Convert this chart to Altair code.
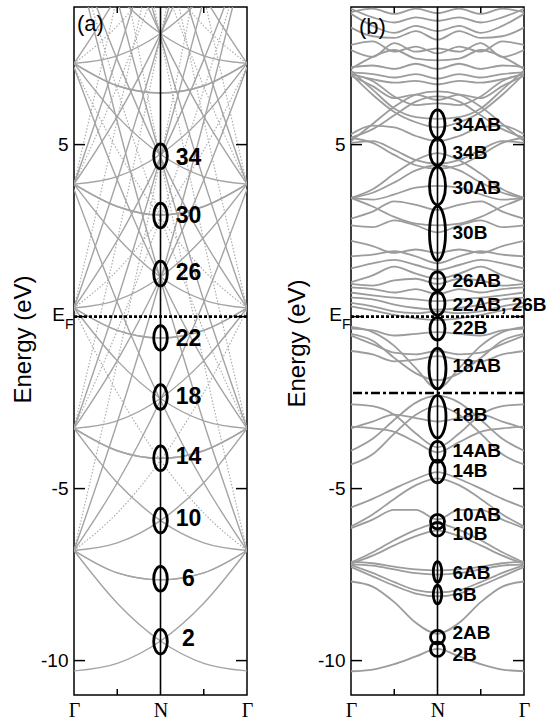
import altair as alt
import pandas as pd

# ---------------- geometry / style ----------------
W, H = 173, 688                 # plot area of each panel (px)
E_MIN, E_MAX = -11.0, 9.0       # energy window (eV)
PX_PER_EV = H / (E_MAX - E_MIN)
SANS = "Liberation Sans"
SERIF = "Liberation Serif"
BAND_GRAY = "#9c9c9c"

# ---------------- panel (a): bands sampled at Γ, Γ-N/2, N, N-Γ/2, Γ ----------------
K_A = [0.0, 0.25, 0.5, 0.75, 1.0]

a_solid = [
    # parabolas joining neighbouring Γ levels
    [-10.30, -10.08, -9.43, -8.33, -6.80],
    [-6.80, -6.58, -5.93, -4.83, -3.25],
    [-3.25, -3.03, -2.38, -1.28, 0.25],
    [0.25, 0.48, 1.15, 2.30, 3.85],
    [3.85, 4.07, 4.72, 5.82, 7.36],
    [7.36, 7.58, 8.23, 9.33, 10.86],
    # bands with their minimum at N
    [-6.80, -7.45, -7.65, -7.45, -6.80],
    [-3.25, -3.90, -4.12, -3.90, -3.25],
    [0.25, -0.40, -0.62, -0.40, 0.25],
    [3.85, 3.20, 2.95, 3.20, 3.85],
    [7.36, 6.71, 6.50, 6.71, 7.36],
    # steeper branches
    [-6.80, -4.83, -2.43, 0.42, 3.70],
    [-3.25, -1.28, 1.13, 3.97, 7.25],
    [0.25, 2.22, 4.63, 7.47, 10.75],
    [3.85, 5.82, 8.22, 11.07, 14.35],
    [7.36, 9.33, 11.73, 14.58, 17.86],
    [-6.80, -3.08, 1.08, 5.67, 10.70],
    [-3.25, 0.47, 4.63, 9.22, 14.25],
    [0.25, 3.97, 8.13, 12.72, 17.75],
    [3.85, 7.57, 11.70, 16.30, 21.35],
]

a_dotted = [
    [-6.80, -5.71, -4.18, -2.21, 0.20],
    [0.25, 1.34, 2.88, 4.84, 7.25],
    [7.36, 8.45, 9.99, 11.95, 14.36],
    [-3.25, -0.41, 2.88, 6.59, 10.75],
    [3.85, 6.69, 9.98, 13.69, 17.85],
    [-6.80, -1.33, 4.58, 10.92, 17.70],
    [-3.25, 2.22, 8.13, 14.47, 21.25],
    [0.25, 5.72, 11.60, 17.97, 24.75],
    [3.85, 9.32, 15.20, 21.57, 28.35],
]

# circled crossings at N, panel (a)
a_names = ["2", "6", "10", "14", "18", "22", "26", "30", "34"]
a_centers = [-9.45, -7.62, -5.93, -4.12, -2.34, -0.62, 1.25, 2.94, 4.66]
a_half_ev = [0.36, 0.36, 0.36, 0.36, 0.36, 0.36, 0.36, 0.36, 0.36]
a_label_E = [-9.36, -7.62, -5.88, -4.09, -2.35, -0.64, 1.28, 2.93, 4.62]

# ---------------- panel (b): bands from Γ to N (mirrored N to Γ) ----------------
K_B = [0.0, 0.125, 0.25, 0.375, 0.5]

b_bands = [
    # upper manifold
    [8.85, 8.95, 8.80, 8.95, 8.82],
    [8.95, 8.70, 8.55, 8.70, 8.60],
    [8.80, 8.45, 8.25, 8.45, 8.30],
    [8.40, 8.15, 8.10, 8.30, 8.05],
    [7.90, 8.00, 7.70, 7.85, 7.65],
    [7.75, 7.55, 7.95, 7.70, 7.80],
    [7.20, 7.55, 7.75, 7.50, 7.45],
    [7.25, 7.30, 7.20, 7.35, 7.20],
    [7.10, 7.05, 6.95, 7.05, 6.92],
    [7.05, 6.90, 6.80, 6.85, 6.75],
    [7.00, 6.70, 6.35, 6.45, 6.30],
    [7.05, 6.85, 6.40, 6.15, 6.20],
    [7.15, 6.60, 6.05, 5.80, 5.75],
    [7.05, 6.45, 5.95, 5.65, 5.50],
    [5.20, 5.45, 5.85, 6.25, 6.40],
    [5.10, 5.60, 6.10, 6.45, 6.55],
    [5.30, 5.55, 5.50, 5.25, 5.10],
    [5.05, 5.10, 4.85, 4.55, 4.45],
    [5.20, 5.05, 4.70, 4.40, 4.30],
    [3.45, 3.70, 4.15, 4.55, 4.75],
    [3.45, 3.60, 3.90, 4.25, 4.40],
    [3.45, 3.40, 3.55, 3.75, 3.80],
    [3.45, 3.20, 2.90, 2.70, 2.65],
    [2.65, 2.60, 2.80, 2.65, 2.45],
    [2.85, 3.05, 3.35, 3.25, 3.10],
    # around the Fermi level
    [2.20, 2.05, 1.85, 1.95, 1.85],
    [1.75, 1.80, 1.90, 1.75, 1.55],
    [1.40, 1.55, 1.65, 1.50, 1.35],
    [1.00, 1.20, 1.45, 1.25, 1.10],
    [0.95, 0.90, 1.05, 1.10, 0.95],
    [0.85, 0.80, 0.70, 0.80, 0.65],
    [0.70, 0.62, 0.55, 0.50, 0.45],
    [0.55, 0.50, 0.35, 0.25, 0.20],
    [0.40, 0.30, 0.15, 0.10, 0.15],
    [0.30, 0.18, 0.05, -0.05, -0.10],
    [-0.35, -0.40, -0.55, -0.50, -0.45],
    [-0.30, -0.45, -0.85, -1.50, -2.10],
    [-0.50, -0.70, -1.20, -1.65, -1.85],
    [-0.55, -0.80, -1.05, -1.10, -1.00],
    [-1.00, -1.10, -1.30, -1.25, -1.15],
    # below the dash-dotted level
    [-2.55, -2.60, -2.85, -3.40, -3.80],
    [-3.20, -3.25, -3.35, -3.65, -3.95],
    [-3.90, -3.55, -3.00, -2.50, -2.30],
    [-4.30, -4.00, -3.40, -2.85, -2.60],
    [-3.25, -3.05, -2.85, -2.95, -3.05],
    [-5.55, -5.30, -5.00, -4.72, -4.52],
    [-6.15, -5.90, -5.62, -5.62, -5.90],
    [-6.10, -5.75, -5.30, -4.90, -4.70],
    [-7.18, -6.95, -6.65, -6.38, -6.22],
    [-7.15, -6.85, -6.50, -6.20, -6.02],
    [-7.12, -7.17, -7.27, -7.35, -7.38],
    [-7.20, -7.24, -7.35, -7.46, -7.50],
    [-7.22, -7.45, -7.72, -7.95, -8.02],
    [-7.28, -7.55, -7.82, -8.05, -8.13],
    [-7.70, -7.85, -8.30, -8.90, -9.22],
    [-10.31, -10.26, -10.10, -9.88, -9.66],
]

b_names = ["2B", "2AB", "6B", "6AB", "10B", "10AB", "14B", "14AB", "18B",
           "18AB", "22B", "22AB, 26B", "26AB", "30B", "30AB", "34B", "34AB"]
b_centers = [-9.67, -9.32, -8.08, -7.42, -6.18, -5.96, -4.50, -3.93, -2.91,
             -1.51, -0.35, 0.38, 1.03, 2.42, 3.80, 4.78, 5.60]
b_half_ev = [0.21, 0.20, 0.27, 0.30, 0.20, 0.21, 0.33, 0.30, 0.62,
             0.59, 0.33, 0.34, 0.27, 0.79, 0.55, 0.39, 0.41]
b_half_w = [7.0, 7.0, 4.2, 4.2, 7.0, 7.0, 7.5, 7.5, 8.5,
            8.5, 7.5, 7.5, 7.5, 8.0, 8.0, 7.5, 7.5]
b_label_E = [-9.83, -9.19, -8.10, -7.44, -6.31, -5.76, -4.50, -3.90, -2.85,
             -1.44, -0.33, 0.35, 1.03, 2.42, 3.73, 4.75, 5.57]

E_F = 0.0
E_DASHDOT = -2.22
Y_TICKS = [5, 0, -5, -10]
K_MINOR = [0.25, 0.75]


# ---------------- helpers ----------------
def band_frame(bands, ks, prefix, mirror_half=False):
    rows = []
    for i, es in enumerate(bands):
        if mirror_half:
            full_k = ks + [1.0 - k for k in reversed(ks[:-1])]
            full_e = es + list(reversed(es[:-1]))
            rows += [{"band": f"{prefix}{i}", "k": k, "E": e} for k, e in zip(full_k, full_e)]
        else:
            rows += [{"band": f"{prefix}{i}", "k": k, "E": e} for k, e in zip(ks, es)]
            rows += [{"band": f"{prefix}{i}m", "k": 1.0 - k, "E": e} for k, e in zip(ks, es)]
    return pd.DataFrame(rows)


def ellipse_path(rx, ry):
    r = rx / ry
    c = 0.5523
    return (f"M0,-1 C{c*r:.4f},-1 {r:.4f},{-c} {r:.4f},0 "
            f"C{r:.4f},{c} {c*r:.4f},1 0,1 "
            f"C{-c*r:.4f},1 {-r:.4f},{c} {-r:.4f},0 "
            f"C{-r:.4f},{-c} {-c*r:.4f},-1 0,-1 Z")


def ellipse_frame(names, centers, half_ev, half_w):
    rows = []
    for n, e, h, w in zip(names, centers, half_ev, half_w):
        ry = h * PX_PER_EV
        rows.append({"name": n, "k": 0.5, "E": e,
                     "shape": ellipse_path(w, ry), "size": (2 * ry) ** 2})
    return pd.DataFrame(rows)


x_scale = alt.Scale(domain=[0, 1], nice=False, zero=False)
y_scale = alt.Scale(domain=[E_MIN, E_MAX], nice=False, zero=False)


def x_enc(field="k"):
    return alt.X(f"{field}:Q", scale=x_scale,
                 axis=alt.Axis(values=[0, 0.5, 1], labelExpr="datum.value == 0.5 ? 'N' : 'Γ'",
                               labelFont=SERIF, labelFontSize=20, labelPadding=5,
                               labelColor="black", ticks=False, domain=False, grid=False,
                               title=None, labelFlush=False))


def y_enc(field, title_x, title_y):
    return alt.Y(f"{field}:Q", scale=y_scale,
                 axis=alt.Axis(values=Y_TICKS,
                               labelExpr="datum.value == 0 ? '' : '' + datum.value",
                               labelFont=SANS, labelFontSize=19, labelPadding=6,
                               labelColor="black", ticks=False, domain=False, grid=False,
                               title="Energy (eV)", titleFont=SANS, titleFontSize=24,
                               titleFontWeight="normal", titleColor="black",
                               titleBaseline="middle", titleAlign="center",
                               titleX=title_x, titleY=title_y))


def frame_layers(dash_levels):
    layers = []
    ticks_y = pd.DataFrame({"E": Y_TICKS})
    ticks_k = pd.DataFrame({"k": K_MINOR})
    layers.append(alt.Chart(ticks_y).mark_rule(color="black", strokeWidth=1.5).encode(
        y=alt.Y("E:Q", scale=y_scale), x=alt.value(0), x2=alt.value(11)))
    layers.append(alt.Chart(ticks_y).mark_rule(color="black", strokeWidth=1.5).encode(
        y=alt.Y("E:Q", scale=y_scale), x=alt.value(W - 11), x2=alt.value(W)))
    layers.append(alt.Chart(ticks_k).mark_rule(color="black", strokeWidth=1.5).encode(
        x=alt.X("k:Q", scale=x_scale), y=alt.value(H - 6), y2=alt.value(H)))
    layers.append(alt.Chart(ticks_k).mark_rule(color="black", strokeWidth=1.5).encode(
        x=alt.X("k:Q", scale=x_scale), y=alt.value(0), y2=alt.value(6)))
    # N line
    layers.append(alt.Chart(pd.DataFrame({"k": [0.5]})).mark_rule(
        color="black", strokeWidth=1.6).encode(x=alt.X("k:Q", scale=x_scale)))
    # Fermi level and extra reference levels
    for e, dash in dash_levels:
        layers.append(alt.Chart(pd.DataFrame({"E": [e]})).mark_rule(
            color="black", strokeWidth=2.6, strokeDash=dash).encode(
            y=alt.Y("E:Q", scale=y_scale)))
    # E_F tick label with subscript
    ef = pd.DataFrame({"E": [E_F]})
    layers.append(alt.Chart(ef).mark_text(
        text="E", align="right", baseline="middle", font=SANS, fontSize=19,
        color="black", dy=-2).encode(y=alt.Y("E:Q", scale=y_scale), x=alt.value(-9)))
    layers.append(alt.Chart(ef).mark_text(
        text="F", align="left", baseline="top", font=SANS, fontSize=14,
        color="black", dy=1).encode(y=alt.Y("E:Q", scale=y_scale), x=alt.value(-9)))
    return layers


def panel(line_layers, ell_df, lab_df, lab_dx, lab_align, lab_size, letter,
          letter_pos, dash_levels, title_x, title_y):
    base_ax = alt.Chart(pd.DataFrame({"k": [0.0], "E": [E_MIN]})).mark_point(opacity=0).encode(
        x=x_enc(), y=y_enc("E", title_x, title_y))
    ell = alt.Chart(ell_df).mark_point(filled=False, stroke="black", strokeWidth=2.8,
                                      opacity=1).encode(
        x=alt.X("k:Q", scale=x_scale), y=alt.Y("E:Q", scale=y_scale),
        shape=alt.Shape("shape:N", scale=None, legend=None),
        size=alt.Size("size:Q", scale=None, legend=None))
    labs = alt.Chart(lab_df).mark_text(
        align=lab_align, baseline="middle", font=SANS, fontSize=lab_size,
        fontWeight="bold", color="black", dx=lab_dx).encode(
        x=alt.X("k:Q", scale=x_scale), y=alt.Y("E:Q", scale=y_scale), text="name:N")
    let = alt.Chart(pd.DataFrame({"t": [letter]})).mark_text(
        align="left", baseline="top", font=SANS, fontSize=22, color="black").encode(
        x=alt.value(letter_pos[0]), y=alt.value(letter_pos[1]), text="t:N")
    return alt.layer(base_ax, *line_layers, *frame_layers(dash_levels), ell, labs, let).properties(
        width=W, height=H)


# ---------------- panel (a) ----------------
a_sol_df = band_frame(a_solid, K_A, "s")
a_dot_df = band_frame(a_dotted, K_A, "d")
a_lines = [
    alt.Chart(a_dot_df).mark_line(color="#a8a8a8", strokeWidth=1.1, strokeDash=[1.5, 1.8],
                                  interpolate="monotone", clip=True).encode(
        x=alt.X("k:Q", scale=x_scale), y=alt.Y("E:Q", scale=y_scale), detail="band:N"),
    alt.Chart(a_sol_df).mark_line(color="#a4a4a4", strokeWidth=1.4,
                                  interpolate="monotone", clip=True).encode(
        x=alt.X("k:Q", scale=x_scale), y=alt.Y("E:Q", scale=y_scale), detail="band:N"),
]
a_ell = ellipse_frame(a_names, a_centers, a_half_ev, [6.8] * len(a_names))
a_lab = pd.DataFrame({"name": a_names, "k": 0.5, "E": a_label_E})
panel_a = panel(a_lines, a_ell, a_lab, 28, "center", 23, "(a)", (3, 7),
                [(E_F, [3, 2])], -51, 332)

# ---------------- panel (b) ----------------
b_df = band_frame(b_bands, K_B, "b", mirror_half=True)
b_lines = [
    alt.Chart(b_df).mark_line(color=BAND_GRAY, strokeWidth=1.8,
                              interpolate="monotone", clip=True).encode(
        x=alt.X("k:Q", scale=x_scale), y=alt.Y("E:Q", scale=y_scale), detail="band:N"),
]
b_ell = ellipse_frame(b_names, b_centers, b_half_ev, b_half_w)
b_lab = pd.DataFrame({"name": b_names, "k": 0.5, "E": b_label_E})
panel_b = panel(b_lines, b_ell, b_lab, 15, "left", 19, "(b)", (8, 10),
                [(E_F, [3, 2]), (E_DASHDOT, [9, 3, 3, 3])], -54, 336)

chart = alt.hconcat(panel_a, panel_b, spacing=30).properties(
    padding={"left": 10, "top": 5, "right": 0, "bottom": 0},
    background="white",
).configure_view(stroke="black", strokeWidth=1.5).configure_concat(spacing=30)

chart.save("out.html", embed_options={"renderer": "svg", "actions": False})
